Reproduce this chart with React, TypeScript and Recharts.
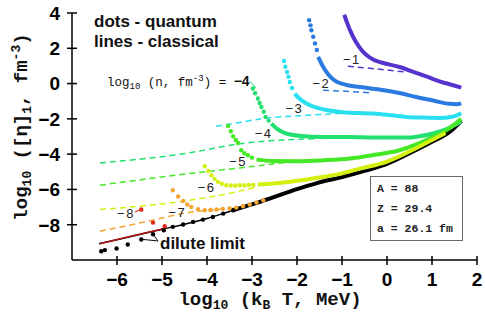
import React from 'react';
import {
  ComposedChart,
  Line,
  Scatter,
  XAxis,
  YAxis,
  ReferenceDot,
  Customized,
} from 'recharts';

// axis ticks
const xTicks = [-6, -5, -4, -3, -2, -1, 0, 1, 2];
const yTicks = [-8, -6, -4, -2, 0, 2, 4];

// classical (dashed) curves, log10 n = -1 ... -7
const cl1 = [[-0.87, 0.98], [-0.2, 0.82], [0.4, 0.66]];
const cl2 = [[-1.42, -0.38], [-0.8, -0.45], [-0.31, -0.53]];
const cl3 = [[-3.8, -2.42], [-3.27, -2.2], [-2.76, -1.98], [-1.79, -1.8], [-1.05, -1.7]];
const cl4 = [[-6.38, -4.5], [-4.38, -3.92], [-3.3, -3.42], [-1.57, -3.12]];
const cl5 = [[-6.38, -5.76], [-4.38, -5.1], [-3.27, -4.78], [-2.16, -4.44]];
const cl6 = [[-6.38, -7.14], [-4.38, -6.61], [-3.35, -6.14], [-2.9, -5.86]];
const cl7 = [[-6.38, -8.37], [-5.4, -7.85], [-4.38, -7.3], [-3.8, -7.15], [-3.27, -7.05]];
const cl8 = [[-6.38, -9.07], [-5.6, -8.6], [-4.94, -8.22]];

// dilute limit, classical
const dilute = [
  [-6.4, -9.08], [-6.0, -8.85], [-5.5, -8.55], [-5.0, -8.26], [-4.5, -7.97], [-4.0, -7.65],
  [-3.5, -7.25], [-3.0, -6.85], [-2.5, -6.42], [-2.0, -5.98], [-1.5, -5.6], [-1.0, -5.3],
  [-0.5, -4.95], [0.0, -4.55], [0.5, -3.95], [1.0, -3.3], [1.39, -2.74], [1.65, -2.12],
];

// quantum, sparse dots
const qd2 = [[-1.73, 3.59], [-1.7, 3.3], [-1.68, 3.02], [-1.64, 2.65], [-1.6, 2.27], [-1.56, 1.9]];
const qd3 = [[-2.29, 1.28], [-2.26, 0.95], [-2.22, 0.66], [-2.19, 0.38], [-2.16, 0.09], [-2.11, -0.25]];
const qd4 = [[-2.98, -0.28], [-2.93, -0.55], [-2.87, -0.85], [-2.83, -1.1], [-2.79, -1.33], [-2.74, -1.6], [-2.7, -1.89], [-2.63, -2.1]];
const qd5 = [[-3.53, -2.4], [-3.47, -2.7], [-3.42, -2.99], [-3.36, -3.2], [-3.31, -3.37], [-3.24, -3.78], [-3.17, -3.95], [-3.09, -4.06], [-3.0, -4.2]];
const qd6 = [
  [-4.05, -4.69], [-3.97, -4.95], [-3.9, -5.2], [-3.83, -5.4], [-3.76, -5.57], [-3.67, -5.68],
  [-3.57, -5.76], [-3.47, -5.78], [-3.37, -5.78], [-3.27, -5.76], [-3.17, -5.76], [-3.07, -5.75],
  [-2.97, -5.74],
];
const qd7 = [
  [-4.76, -6.05], [-4.64, -6.4], [-4.53, -6.65], [-4.44, -6.85], [-4.35, -6.99], [-4.2, -7.12],
  [-4.05, -7.18], [-3.92, -7.16], [-3.79, -7.14], [-3.65, -7.1], [-3.5, -7.08], [-3.35, -7.03],
  [-3.2, -6.95], [-3.05, -6.85], [-2.9, -6.74], [-2.75, -6.62],
];
const qd8 = [[-5.46, -7.14], [-5.2, -7.88], [-4.94, -8.09]];
const qdDilute = [
  [-6.35, -9.5], [-6.27, -9.44], [-6.01, -9.35], [-5.76, -9.12], [-5.46, -8.84], [-5.2, -8.54],
  [-4.96, -8.31], [-4.76, -8.12], [-4.53, -7.99], [-4.31, -7.84], [-4.09, -7.71], [-3.87, -7.56],
  [-3.64, -7.37], [-3.42, -7.18],
];

// quantum, dense part (drawn as thick line)
const qt1 = [
  [-0.95, 3.9], [-0.88, 3.4], [-0.8, 2.9], [-0.7, 2.4], [-0.58, 1.95], [-0.45, 1.6], [-0.3, 1.35],
  [-0.1, 1.18], [0.28, 0.94], [0.6, 0.65], [0.9, 0.38], [1.2, 0.1], [1.45, -0.08], [1.65, -0.23],
];
const qt2 = [
  [-1.53, 1.51], [-1.42, 0.95], [-1.3, 0.5], [-1.15, 0.15], [-0.95, -0.05], [-0.6, -0.2],
  [-0.1, -0.36], [0.3, -0.55], [0.65, -0.76], [1.0, -0.95], [1.39, -1.15], [1.55, -1.17], [1.65, -1.12],
];
const qt3 = [
  [-2.05, -0.57], [-1.95, -0.85], [-1.79, -1.13], [-1.6, -1.33], [-1.35, -1.5], [-1.0, -1.62],
  [-0.31, -1.7], [0.1, -1.8], [0.43, -1.89], [0.8, -1.93], [1.17, -1.95], [1.45, -1.88], [1.65, -1.68],
];
const qt4 = [
  [-2.57, -2.27], [-2.45, -2.55], [-2.24, -2.83], [-1.9, -2.97], [-1.42, -3.03], [-0.82, -3.03],
  [-0.31, -3.06], [0.43, -3.06], [0.66, -3.01], [1.02, -2.83], [1.35, -2.55], [1.65, -2.15],
];
const qt5 = [
  [-2.9, -4.31], [-2.53, -4.39], [-2.0, -4.4], [-1.42, -4.35], [-0.82, -4.25], [-0.3, -4.05],
  [0.28, -3.78], [0.65, -3.45], [1.02, -3.03], [1.35, -2.6], [1.65, -2.0],
];
const qt6 = [
  [-2.87, -5.72], [-2.53, -5.67], [-2.2, -5.58], [-1.79, -5.44], [-1.4, -5.28], [-1.05, -5.12],
  [-0.6, -4.82], [0.0, -4.42], [0.5, -3.85], [1.0, -3.2], [1.3, -2.8],
];
const qtDilute = [
  [-3.42, -7.18], [-3.0, -6.85], [-2.5, -6.42], [-2.0, -5.98], [-1.5, -5.6], [-1.0, -5.3],
  [-0.5, -4.95], [0.0, -4.55], [0.5, -3.95], [1.0, -3.3], [1.39, -2.74], [1.65, -2.12],
];

const colors = ['#5533cc', '#2a7ae2', '#2ae0f0', '#22e070', '#44e824', '#d4f010', '#f4a432', '#e0281c'];

const curveLabels = ['−1', '−2', '−3', '−4', '−5', '−6', '−7', '−8'];
const labelX = [-0.78, -1.46, -2.06, -2.74, -3.31, -4.01, -4.66, -5.8];
const labelY = [1.36, 0.0, -1.42, -2.83, -4.39, -5.86, -7.27, -7.37];

const pts = (a: number[][]) => a.map(([x, y]) => ({ x, y }));

const fmt = (v: number) => String(v).replace('-', '−');

const tickFont = { fontFamily: 'Liberation Sans, Arial, sans-serif', fontWeight: 700, fontSize: 19 };
const mono = 'Liberation Mono, Courier New, monospace';
const sans = 'Liberation Sans, Arial, sans-serif';

const YTick = (p: any) => (
  <g>
    <line x1={p.x - 5} x2={p.x + 5} y1={p.y} y2={p.y} stroke="#000" strokeWidth={1.5} />
    <text x={p.x - 12} y={p.y} dy="0.36em" textAnchor="end" fill="#000" {...tickFont}>
      {fmt(p.payload.value)}
    </text>
  </g>
);

const XTick = (p: any) => (
  <g>
    <line x1={p.x} x2={p.x} y1={p.y - 4} y2={p.y + 5} stroke="#000" strokeWidth={1.5} />
    <text x={p.x} y={p.y + 26} textAnchor="middle" fill="#000" {...tickFont}>
      {fmt(p.payload.value)}
    </text>
  </g>
);

const CurveLabel = (p: any) => {
  const vb = p.viewBox;
  return (
    <text
      x={vb.x + vb.width / 2}
      y={vb.y + vb.height / 2}
      dy="0.36em"
      textAnchor="middle"
      fontFamily={sans}
      fontSize={13}
      letterSpacing={1.5}
      fill="#222"
    >
      {p.value}
    </text>
  );
};

const dot = (color: string) => (p: any) => <circle cx={p.cx} cy={p.cy} r={2.2} fill={color} />;

const Annotations = () => (
  <g>
    <text x={94} y={27} fontFamily={sans} fontWeight={700} fontSize={17} fill="#111">dots - quantum</text>
    <text x={94} y={47} fontFamily={sans} fontWeight={700} fontSize={17} fill="#111">lines - classical</text>
    <text x={107} y={86} fontFamily={mono} fontSize={12.5} fill="#111">
      log<tspan fontSize={9} dy={3}>10</tspan>
      <tspan dy={-3}> (n, fm</tspan>
      <tspan fontSize={9} dy={-5}>-3</tspan>
      <tspan dy={5}>) = </tspan>
      <tspan fontFamily={sans} fontWeight={700} fontSize={14}>−4</tspan>
    </text>
    <line x1={250} y1={81} x2={256} y2={88} stroke={colors[3]} strokeWidth={1} />
    <line x1={135} y1={212} x2={141.5} y2={209.3} stroke={colors[7]} strokeWidth={1.2} />
    <text x={160} y={249} fontFamily={sans} fontWeight={700} fontSize={17} fill="#111">dilute limit</text>
    <line x1={158} y1={241} x2={142} y2={239.3} stroke="#111" strokeWidth={1} />
    <line x1={158} y1={241} x2={153.3} y2={234.5} stroke="#111" strokeWidth={1} />
    <text
      transform="translate(27,127) rotate(-90)"
      textAnchor="middle"
      fontFamily={mono}
      fontWeight={700}
      fontSize={19}
      fill="#111"
    >
      log<tspan fontSize={13} dy={4}>10</tspan>
      <tspan dy={-4}> ([η]</tspan>
      <tspan fontSize={13} dy={4}>1</tspan>
      <tspan dy={-4}>,  fm</tspan>
      <tspan fontSize={13} dy={-7}>-3</tspan>
      <tspan dy={7}>)</tspan>
    </text>
    <text x={270} y={305} textAnchor="middle" fontFamily={mono} fontWeight={700} fontSize={19} fill="#111">
      log<tspan fontSize={13} dy={4}>10</tspan>
      <tspan dy={-4}> (k</tspan>
      <tspan fontSize={13} dy={4}>B</tspan>
      <tspan dy={-4}> T, MeV)</tspan>
    </text>
    <rect x={370.5} y={176.5} width={92} height={64} fill="#fff" stroke="#666" strokeWidth={1} />
    <text x={377} y={192} fontFamily={mono} fontWeight={700} fontSize={11.5} fill="#222">A = 88</text>
    <text x={377} y={212} fontFamily={mono} fontWeight={700} fontSize={11.5} fill="#222">Z = 29.4</text>
    <text x={377} y={231.5} fontFamily={mono} fontWeight={700} fontSize={11.5} fill="#222">a = 26.1 fm</text>
  </g>
);

const classical = [cl1, cl2, cl3, cl4, cl5, cl6, cl7];
const sparse = [null, qd2, qd3, qd4, qd5, qd6, qd7, qd8];
const dense = [qt1, qt2, qt3, qt4, qt5, qt6];

export default function App() {
  return (
    <div style={{ position: 'absolute', left: 0, top: 0, background: '#fff' }}>
      <ComposedChart width={485} height={315} margin={{ top: 13, right: 8, bottom: 54, left: 71 }}>
        <XAxis
          type="number"
          dataKey="x"
          domain={[-7, 2]}
          ticks={xTicks}
          allowDataOverflow
          height={1}
          tickSize={0}
          tickMargin={0}
          tickLine={false}
          tick={<XTick />}
          axisLine={{ stroke: '#000', strokeWidth: 1.5 }}
          interval={0}
        />
        <YAxis
          type="number"
          dataKey="y"
          domain={[-10, 4]}
          ticks={yTicks}
          allowDataOverflow
          width={1}
          tickSize={0}
          tickMargin={0}
          tickLine={false}
          tick={<YTick />}
          axisLine={{ stroke: '#000', strokeWidth: 1.5 }}
          interval={0}
        />
        {classical.map((c, i) => (
          <Line
            key={`cl${i}`}
            data={pts(c)}
            dataKey="y"
            type="monotone"
            stroke={colors[i]}
            strokeWidth={1.5}
            strokeDasharray="6 4"
            dot={false}
            isAnimationActive={false}
          />
        ))}
        <Line data={pts(dilute)} dataKey="y" type="monotone" stroke="#000" strokeWidth={1.5} dot={false} isAnimationActive={false} />
        <Line data={pts(qtDilute)} dataKey="y" type="monotone" stroke="#000" strokeWidth={4} dot={false} isAnimationActive={false} />
        <Line data={pts(cl8)} dataKey="y" type="monotone" stroke="#b01818" strokeWidth={1.5} dot={false} isAnimationActive={false} />
        <Scatter data={pts(qdDilute)} shape={dot('#000')} isAnimationActive={false} />
        {dense.map((c, i) => (
          <Line
            key={`qt${i}`}
            data={pts(c)}
            dataKey="y"
            type="monotone"
            stroke={colors[i]}
            strokeWidth={4}
            dot={false}
            isAnimationActive={false}
          />
        ))}
        {sparse.map((c, i) =>
          c ? <Scatter key={`qd${i}`} data={pts(c)} shape={dot(colors[i])} isAnimationActive={false} /> : null
        )}
        {curveLabels.map((t, i) => (
          <ReferenceDot
            key={t}
            x={labelX[i]}
            y={labelY[i]}
            r={0}
            fill="none"
            stroke="none"
            label={{ value: t, content: CurveLabel }}
          />
        ))}
        <Customized component={Annotations} />
      </ComposedChart>
    </div>
  );
}
